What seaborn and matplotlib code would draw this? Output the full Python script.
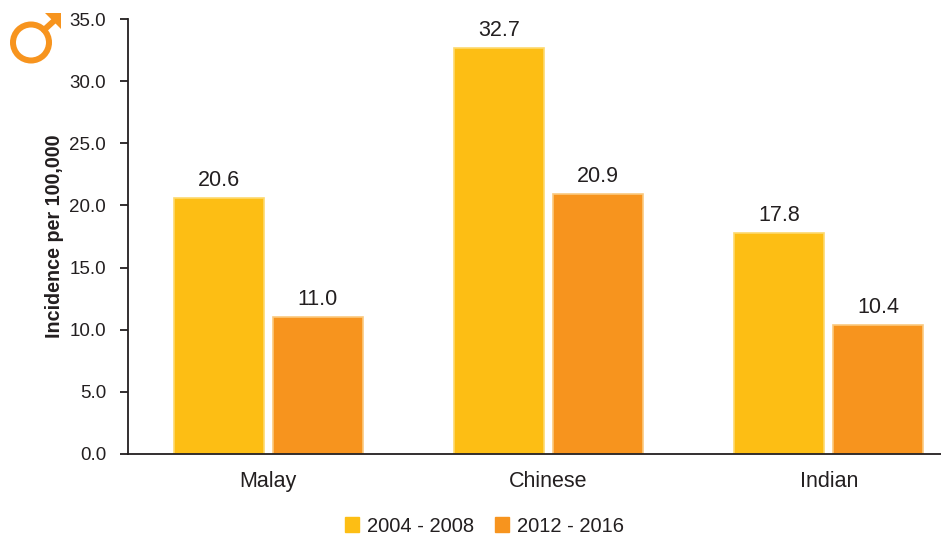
import matplotlib
matplotlib.use("Agg")
import matplotlib.pyplot as plt
from matplotlib.patches import Polygon, Ellipse
from matplotlib.lines import Line2D
import pandas as pd
import seaborn as sns

groups = ["Malay", "Chinese", "Indian"]
periods = ["2004 - 2008", "2012 - 2016"]
values_2004 = [20.6, 32.7, 17.8]
values_2012 = [11.0, 20.9, 10.4]
yticks = [0, 5, 10, 15, 20, 25, 30, 35]
colors = ["#FDBE14", "#F7941E"]
edges = ["#FDD96E", "#FBC97F"]
W, H = 941, 536
INK = "#231F20"

sns.set_theme(style="ticks")
plt.rcParams["font.family"] = ["Liberation Sans", "DejaVu Sans"]

df = pd.DataFrame({
    "group": groups * 2,
    "period": [periods[0]] * 3 + [periods[1]] * 3,
    "value": values_2004 + values_2012,
})

fig = plt.figure(figsize=(W / 100, H / 100), dpi=100)
ax = fig.add_axes([128 / W, 1 - 454 / H, (W - 128) / W, (454 - 19) / H])
sns.barplot(data=df, x="group", y="value", hue="period", order=groups, hue_order=periods,
            palette=colors, width=0.706, gap=0.09, errorbar=None, ax=ax, legend=False,
            linewidth=1.2, saturation=1)
for cont, ec in zip(ax.containers, edges):
    for b in cont:
        b.set_edgecolor(ec)
    ax.bar_label(cont, fmt="%.1f", padding=5, fontsize=15.5, color=INK)

ax.set_xlim(-0.5, 2.4)
ax.set_ylim(0, 35)
ax.set_yticks(yticks)
ax.set_yticklabels([f"{v:.1f}" for v in yticks], fontsize=13.5, color=INK)
ax.tick_params(axis="y", length=5.8, width=1.3, color=INK, pad=10, direction="out")
ax.tick_params(axis="x", length=0, pad=12, labelsize=15.5, labelcolor=INK)
ax.set_xlabel("")
ax.set_ylabel("Incidence per 100,000", fontsize=14.2, fontweight="bold", color=INK)
ax.yaxis.set_label_coords((64 - 128) / (W - 128), 0.5)
for s in ["top", "right"]:
    ax.spines[s].set_visible(False)
for s in ["left", "bottom"]:
    ax.spines[s].set_linewidth(1.3)
    ax.spines[s].set_color(INK)
handles = [plt.Rectangle((0, 0), 1, 1, color=c) for c in colors]
fig.legend(handles, periods, loc="center", bbox_to_anchor=(484.5 / W, 1 - 526 / H), ncol=2, frameon=False,
           fontsize=14.5, handlelength=0.7, handleheight=0.7, handletextpad=0.4, columnspacing=1.05,
           labelcolor=INK, borderpad=0.1)

sym = "#F7941E"
def px(x, y):
    return (x / W, 1 - y / H)
ew = 6 * 0.72
fig.add_artist(Ellipse(px(31, 42.5), 36 / W, 36 / H, transform=fig.transFigure, fill=False, edgecolor=sym, linewidth=ew))
fig.add_artist(Line2D([44 / W, 56 / W], [1 - 30 / H, 1 - 19 / H], transform=fig.transFigure, color=sym, linewidth=ew))
fig.add_artist(Polygon([px(45, 13), px(60.5, 13), px(60.5, 28.5)], closed=True, transform=fig.transFigure, facecolor=sym, edgecolor="none"))
fig.savefig("out.png", dpi=100)
